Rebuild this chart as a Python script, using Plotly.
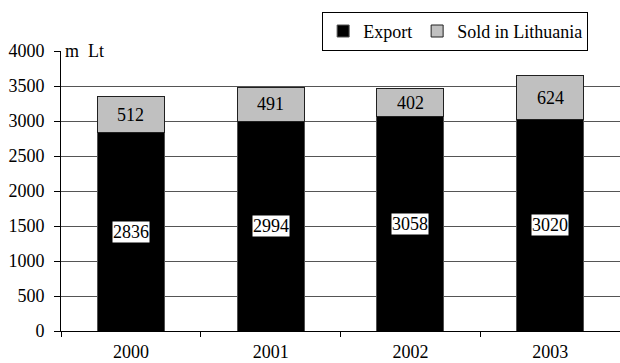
import plotly.graph_objects as go

# Revenue split, million litas
years = ["2000", "2001", "2002", "2003"]
export = [2836, 2994, 3058, 3020]
domestic = [512, 491, 402, 624]
y_ticks = [0, 500, 1000, 1500, 2000, 2500, 3000, 3500, 4000]

FONT = "Liberation Serif"
FS = 18

fig = go.Figure()
fig.add_trace(go.Bar(
    x=years, y=export, name="Export",
    marker=dict(color="#000000", line=dict(color="#505050", width=1)),
    width=0.48,
))
fig.add_trace(go.Bar(
    x=years, y=domestic, name="Sold in Lithuania",
    marker=dict(color="#C0C0C0", line=dict(color="#202020", width=1)),
    width=0.48,
))

# value labels centred in each stacked segment (category index positions)
annotations = []
for i, (e, d) in enumerate(zip(export, domestic)):
    annotations.append(dict(
        x=i, y=e / 2, text=str(e), showarrow=False,
        font=dict(family=FONT, size=FS, color="#000000"),
        bgcolor="#FFFFFF", borderpad=0,
    ))
    annotations.append(dict(
        x=i, y=e + d / 2, text=str(d), showarrow=False,
        font=dict(family=FONT, size=FS, color="#000000"),
    ))
annotations.append(dict(
    xref="paper", yref="y", x=0.004, y=4000, xanchor="left", yanchor="middle",
    text="m\u00a0 Lt", showarrow=False,
    font=dict(family=FONT, size=FS, color="#000000"),
))

fig.update_layout(
    width=620, height=363,
    margin=dict(l=61, r=0, t=51, b=32),
    barmode="stack",
    paper_bgcolor="#FFFFFF", plot_bgcolor="#FFFFFF",
    font=dict(family=FONT, size=FS, color="#000000"),
    showlegend=True,
    legend=dict(
        orientation="h", traceorder="normal",
        x=0.943, xanchor="right", y=1.14, yanchor="top",
        bordercolor="#000000", borderwidth=1,
        font=dict(family=FONT, size=FS),
        itemwidth=30,
    ),
    annotations=annotations,
    xaxis=dict(
        type="category",
        range=[-0.5, 3.5], showgrid=False,
        showline=True, linecolor="#000000", linewidth=1,
        ticks="outside", tickson="boundaries", ticklen=5, tickcolor="#000000",
        ticklabelstandoff=4,
        tickfont=dict(family=FONT, size=FS),
    ),
    yaxis=dict(
        range=[0, 4000], tickvals=y_ticks,
        showgrid=True, gridcolor="#555555", gridwidth=1,
        showline=True, linecolor="#000000", linewidth=1,
        ticks="outside", ticklen=6, tickcolor="#000000",
        ticklabelstandoff=6,
        tickfont=dict(family=FONT, size=FS),
        zeroline=False,
    ),
)

fig.write_html("out.html")
